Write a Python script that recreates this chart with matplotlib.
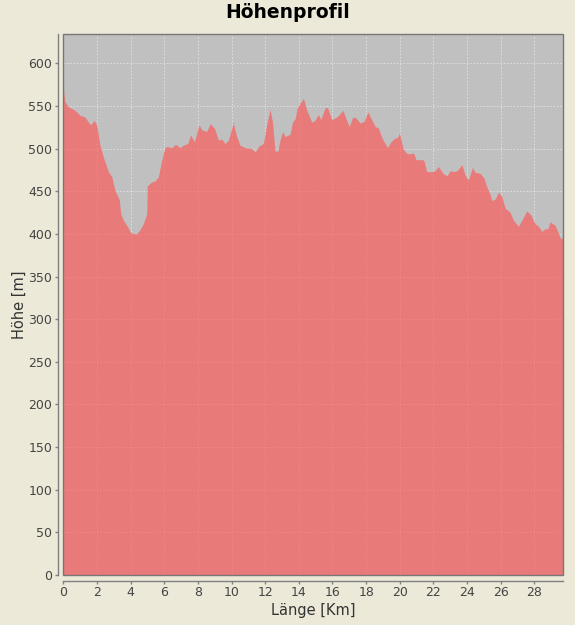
import matplotlib
matplotlib.use("Agg")
from matplotlib import pyplot as plt
from matplotlib.patches import Rectangle

laenge_km = [0.0, 0.02, 0.1, 0.3, 0.6, 0.8, 1.0, 1.29, 1.49, 1.63, 1.84, 1.98,
             2.18, 2.38, 2.68, 2.88, 3.07, 3.33, 3.41, 3.57, 3.77, 4.02, 4.36,
             4.56, 4.76, 4.96, 4.99, 5.25, 5.45, 5.65, 5.81, 6.05, 6.25, 6.44,
             6.68, 6.94, 7.13, 7.40, 7.57, 7.79, 8.07, 8.23, 8.52, 8.72, 8.98,
             9.22, 9.42, 9.61, 9.81, 10.1, 10.31, 10.5, 10.8, 11.2, 11.4, 11.63,
             11.89, 12.09, 12.29, 12.43, 12.59, 12.75, 12.88, 13.04, 13.18,
             13.48, 13.62, 13.78, 13.91, 14.27, 14.47, 14.77, 14.96, 15.16,
             15.3, 15.56, 15.7, 15.96, 16.25, 16.41, 16.61, 16.75, 16.99, 17.21,
             17.4, 17.64, 17.88, 18.1, 18.33, 18.53, 18.73, 18.93, 19.26, 19.47,
             19.68, 19.86, 19.98, 20.21, 20.45, 20.65, 20.81, 20.97, 21.37,
             21.45, 21.6, 21.9, 22.1, 22.29, 22.56, 22.8, 22.99, 23.2, 23.4,
             23.69, 23.88, 24.08, 24.32, 24.48, 24.78, 25.01, 25.17, 25.37,
             25.47, 25.67, 25.86, 26.06, 26.26, 26.4, 26.56, 26.75, 27.05,
             27.31, 27.55, 27.79, 28.04, 28.24, 28.44, 28.64, 28.8, 28.94,
             29.23, 29.43, 29.53, 29.72]
hoehe_m = [604, 566, 555, 549, 546, 543, 539, 537, 531, 528, 533, 528,
           504, 490, 473, 467, 451, 440, 424, 416, 410, 401, 400,
           405, 412, 424, 456, 461, 462, 467, 483, 502, 502, 501,
           505, 501, 504, 506, 516, 508, 528, 522, 520, 529, 524,
           510, 511, 506, 510, 530, 514, 504, 501, 500, 496, 503,
           506, 528, 546, 531, 497, 497, 510, 520, 514,
           517, 531, 535, 548, 559, 545, 531, 533, 540,
           534, 548, 548, 534, 537, 540, 545, 538, 526, 537,
           536, 530, 532, 543, 534, 526, 524, 513, 501, 508,
           512, 513, 518, 499, 494, 494, 495, 487, 487,
           485, 473, 473, 474, 479, 471, 468, 474, 473, 474,
           481, 469, 463, 478, 472, 471, 465, 455, 446,
           439, 441, 449, 444, 430, 428, 425, 416, 409,
           418, 427, 422, 412, 409, 403, 406, 406, 414,
           410, 401, 395, 395]

x_ticks = list(range(0, 30, 2))
y_ticks = list(range(0, 650, 50))

bg = "#ECE9D8"
fig = plt.figure(figsize=(5.75, 6.25), dpi=100, facecolor=bg)
ax = fig.add_axes([0.1101, 0.080, 0.8696, 0.8651])
ax.set_facecolor("#C0C0C0")

ax.fill_between(laenge_km, hoehe_m, 0, color="#FF5555", alpha=0.65,
                linewidth=0, zorder=2)

ax.set_xlim(0, 29.72)
ax.set_ylim(0, 634)
ax.set_xticks(x_ticks)
ax.set_yticks(y_ticks)

ax.set_axisbelow(True)
ax.grid(True, color="white", alpha=0.55, linewidth=0.6, linestyle=(0, (2, 2)))

# Achsen leicht abgesetzt wie bei JFreeChart
for s in ["top", "right"]:
    ax.spines[s].set_visible(False)
for s in ["left", "bottom"]:
    ax.spines[s].set_position(("outward", 4))
    ax.spines[s].set_color("#808080")
    ax.spines[s].set_linewidth(1)
ax.add_patch(Rectangle((0, 0), 1, 1, transform=ax.transAxes, fill=False,
                       edgecolor="#777777", linewidth=1, clip_on=False, zorder=5))

ax.tick_params(axis="both", length=2, width=1, color="#808080",
               labelsize=9, labelcolor="#444444", pad=2)

ax.set_xlabel("Länge [Km]", fontsize=10.5, color="#333333", labelpad=3)
ax.set_ylabel("Höhe [m]", fontsize=10.5, color="#333333", labelpad=1)
fig.suptitle("Höhenprofil", fontsize=13.5, fontweight="bold", color="black",
             x=0.5, y=0.995, va="top")

fig.savefig("out.png", dpi=100, facecolor=bg)
